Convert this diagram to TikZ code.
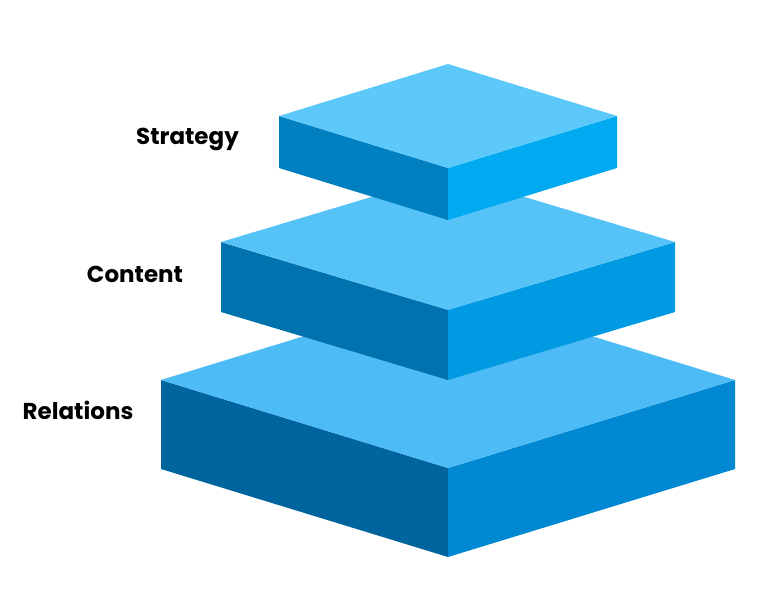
\documentclass[tikz,border=0pt]{standalone}
\usepackage{fontspec}
\setmainfont{Poppins}
\usepackage{tikz}
\definecolor{stratTop}{HTML}{5DC9FB}
\definecolor{stratLeft}{HTML}{0080C0}
\definecolor{stratRight}{HTML}{00A9F0}
\definecolor{contTop}{HTML}{55C3F8}
\definecolor{contLeft}{HTML}{0073AE}
\definecolor{contRight}{HTML}{009AE2}
\definecolor{relTop}{HTML}{4DBBF5}
\definecolor{relLeft}{HTML}{00649E}
\definecolor{relRight}{HTML}{0088D2}
% slab: centre x, corner y, half width, half depth, thickness, colour prefix
\newcommand{\slab}[6]{%
	\fill[#6Left] (#1-#3,#2) -- (#1,#2+#4) -- (#1,#2+#4+#5) -- (#1-#3,#2+#5) -- cycle;
	\fill[#6Right] (#1+#3,#2) -- (#1,#2+#4) -- (#1,#2+#4+#5) -- (#1+#3,#2+#5) -- cycle;
	\fill[#6Top] (#1,#2-#4) -- (#1+#3,#2) -- (#1,#2+#4) -- (#1-#3,#2) -- cycle;
}

\begin{document}
\begin{tikzpicture} [x=1pt, y=-1pt, label/.style ={font=\fontsize{23}{26}\selectfont\bfseries, inner sep=0pt}]
	\useasboundingbox (0,0) rectangle (779,590);
	\slab{448}{380}{287}{88}{89}{rel}
	\slab{448}{242}{227}{68}{70}{cont}
	\slab{448}{116}{169}{52}{52}{strat}
	\node[label] (strategy) at (187.5,139) {Strategy};
	\node[label] (content) at (135,274) {Content};
	\node[label] (relations) at (78,410) {Relations};
\end{tikzpicture}
\end{document}
